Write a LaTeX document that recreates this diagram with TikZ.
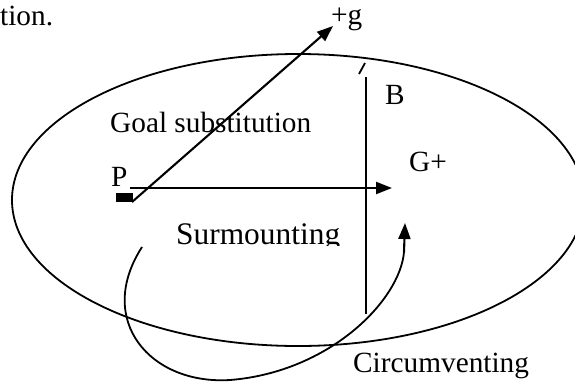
\documentclass[tikz,border=0pt]{standalone}
\usepackage{fontspec}
\setmainfont{Liberation Serif}
\usetikzlibrary{arrows.meta}
\begin{document}
\begin{tikzpicture}[x=1pt,y=-1pt,
  lbl/.style={anchor=base west,inner sep=0pt,font=\fontsize{29.3}{35}\selectfont},
  ln/.style={line width=1.8pt},
  arr/.style={line width=2.1pt,-{Triangle[length=16pt,width=12pt]}}]
\useasboundingbox (0,0) rectangle (575,381);
% boundary ellipse
\draw[ln] (298,200) ellipse [x radius=286pt, y radius=146pt];
% labels
\node[lbl] (prev) at (0,25) {tion.};
\node[lbl] (g) at (331,24) {+g};
\node[lbl] (B) at (385,104) {B};
\node[lbl] (goal) at (110,132) {Goal substitution};
\node[lbl] (P) at (111,186) {P};
\node[lbl] (G) at (409,171) {G+};
\begin{scope}
  \clip (150,200) rectangle (360,245.5);
  \node[lbl,font=\fontsize{31.4}{37}\selectfont] (surm) at (176,244) {Surmounting};
\end{scope}
\node[lbl] (circ) at (353,372) {Circumventing};
% points
\coordinate (o) at (132,202);
\coordinate (gtip) at (333,26);
\coordinate (h0) at (130,188);
\coordinate (htip) at (392,188);
\coordinate (btop) at (366,77);
\coordinate (bbot) at (366,314);
\coordinate (t0) at (359,74);
\coordinate (t1) at (365,63);
\coordinate (c0) at (142,247);
\coordinate (c1) at (230,380);
\coordinate (c2) at (404,252);
\coordinate (ctip) at (405,223);
% small thick arrow at P
\fill (116,192.5) rectangle (133,201.5);
% arrows
\draw[arr] (o) -- (gtip);
\draw[arr] (h0) -- (htip);
% barrier
\draw[ln] (btop) -- (bbot);
\draw[ln] (t0) -- (t1);
% circumventing path
\draw[ln] (c0) .. controls (95,320) and (150,385) .. (c1)
  .. controls (330,372) and (400,300) .. (c2);
\draw[arr] (c2) -- (ctip);
\end{tikzpicture}
\end{document}
